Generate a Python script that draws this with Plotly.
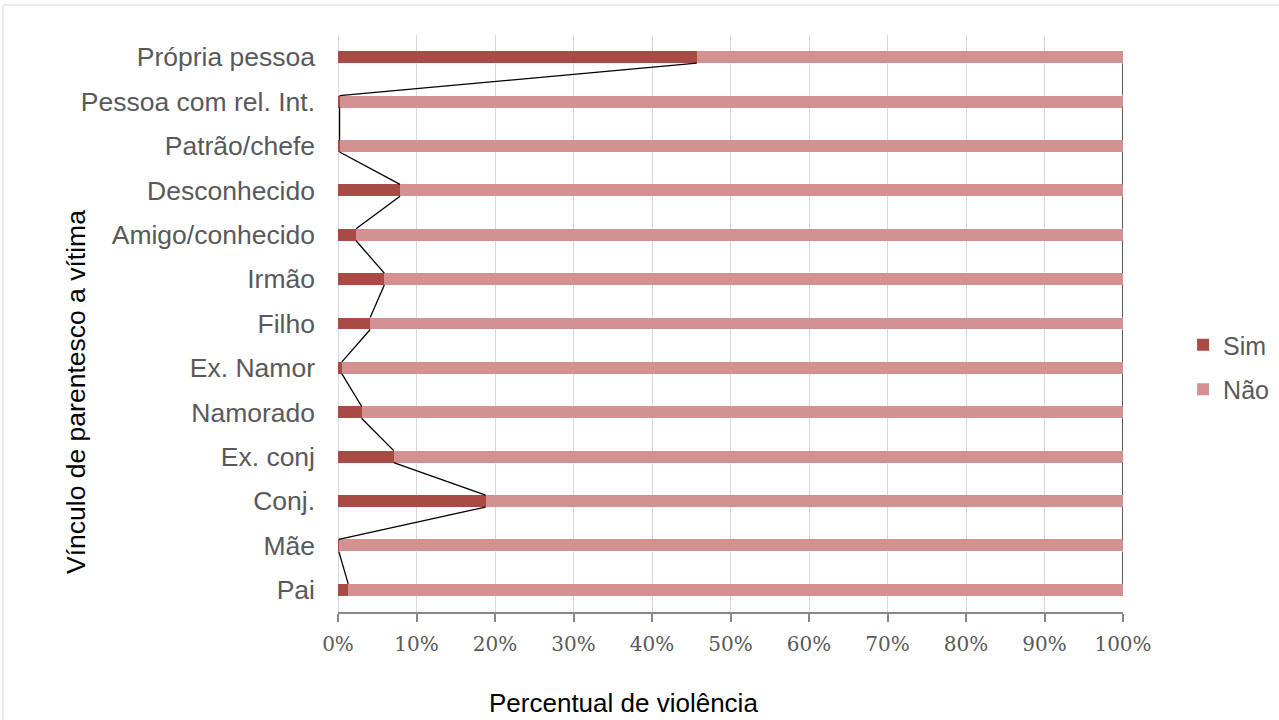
import plotly.graph_objects as go

categories = ["Pai", "Mãe", "Conj.", "Ex. conj", "Namorado", "Ex. Namor", "Filho",
              "Irmão", "Amigo/conhecido", "Desconhecido", "Patrão/chefe",
              "Pessoa com rel. Int.", "Própria pessoa"]
sim = [1.3, 0.1, 18.8, 7.1, 3.0, 0.5, 4.1, 5.9, 2.3, 7.9, 0.2, 0.2, 45.7]
nao = [round(100 - s, 1) for s in sim]
x_ticks = [0, 10, 20, 30, 40, 50, 60, 70, 80, 90, 100]

SIM_COLOR = "#AA4A45"
NAO_COLOR = "#D39191"
BAR_W = 0.27

ypos = list(range(len(categories)))
sim_f = [v / 100 for v in sim]
nao_f = [v / 100 for v in nao]

fig = go.Figure()
fig.add_trace(go.Bar(y=ypos, x=sim_f, orientation="h", name="Sim",
                     marker=dict(color=SIM_COLOR, line=dict(width=0)),
                     width=BAR_W, legendgroup="a"))
fig.add_trace(go.Bar(y=ypos, x=nao_f, orientation="h", name="Não",
                     marker=dict(color=NAO_COLOR, line=dict(width=0)),
                     width=BAR_W, legendgroup="b"))

# series lines (connect bar ends between consecutive categories)
def series_lines(ends):
    xs, ys = [], []
    for i in range(len(ypos) - 1, 0, -1):
        xs += [ends[i], ends[i - 1], None]
        ys += [ypos[i] - BAR_W / 2, ypos[i - 1] + BAR_W / 2, None]
    return xs, ys

lx, ly = series_lines(sim_f)
fig.add_trace(go.Scatter(x=lx, y=ly, mode="lines", line=dict(color="black", width=1.3),
                         showlegend=False, hoverinfo="skip"))
tot = [s + n for s, n in zip(sim_f, nao_f)]
lx2, ly2 = series_lines(tot)
fig.add_trace(go.Scatter(x=lx2, y=ly2, mode="lines", line=dict(color="black", width=1.3),
                         showlegend=False, hoverinfo="skip"))

SANS = "Liberation Sans, Arial"
fig.update_layout(
    barmode="stack",
    width=1279, height=720,
    margin=dict(l=338, r=156, t=35, b=108, autoexpand=False),
    paper_bgcolor="white", plot_bgcolor="white",
    showlegend=True,
    legend=dict(xref="container", yref="container", x=0.925, y=1 - 322 / 720,
                xanchor="left", yanchor="top",
                font=dict(family=SANS, size=25, color="#595959"),
                traceorder="grouped", tracegroupgap=9, itemwidth=30),
    xaxis=dict(range=[0, 1], tickvals=[t / 100 for t in x_ticks],
               ticktext=[f"{t}%" for t in x_ticks],
               showgrid=True, gridcolor="#D9D9D9", gridwidth=1.2,
               zeroline=True, zerolinecolor="#D9D9D9", zerolinewidth=1.2,
               showline=True, linecolor="#888888", linewidth=1.5,
               ticks="outside", ticklen=8, tickcolor="#888888", tickwidth=1.5,
               ticklabelstandoff=5,
               tickfont=dict(family="DejaVu Serif", size=20, color="#595959")),
    yaxis=dict(range=[-0.5, len(categories) - 0.5], tickvals=ypos, ticktext=categories,
               showgrid=False, zeroline=False, showline=False, ticks="",
               ticklabelstandoff=22,
               tickfont=dict(family=SANS, size=26.5, color="#595959")),
    annotations=[
        dict(text="Percentual de violência", xref="paper", yref="paper",
             x=0.3637, y=-0.1577, showarrow=False, xanchor="center", yanchor="middle",
             font=dict(family=SANS, size=26, color="black")),
        dict(text="Vínculo de parentesco a vítima", xref="paper", yref="paper",
             x=-0.334, y=0.381, showarrow=False, textangle=-90,
             xanchor="center", yanchor="middle",
             font=dict(family=SANS, size=26.5, color="black")),
    ],
    shapes=[dict(type="rect", xref="paper", yref="paper",
                 x0=-0.4268, x1=1.3, y0=-0.3, y1=1.052,
                 line=dict(color="#D9D9D9", width=1), fillcolor="rgba(0,0,0,0)",
                 layer="below")],
)

fig.write_html("out.html")
